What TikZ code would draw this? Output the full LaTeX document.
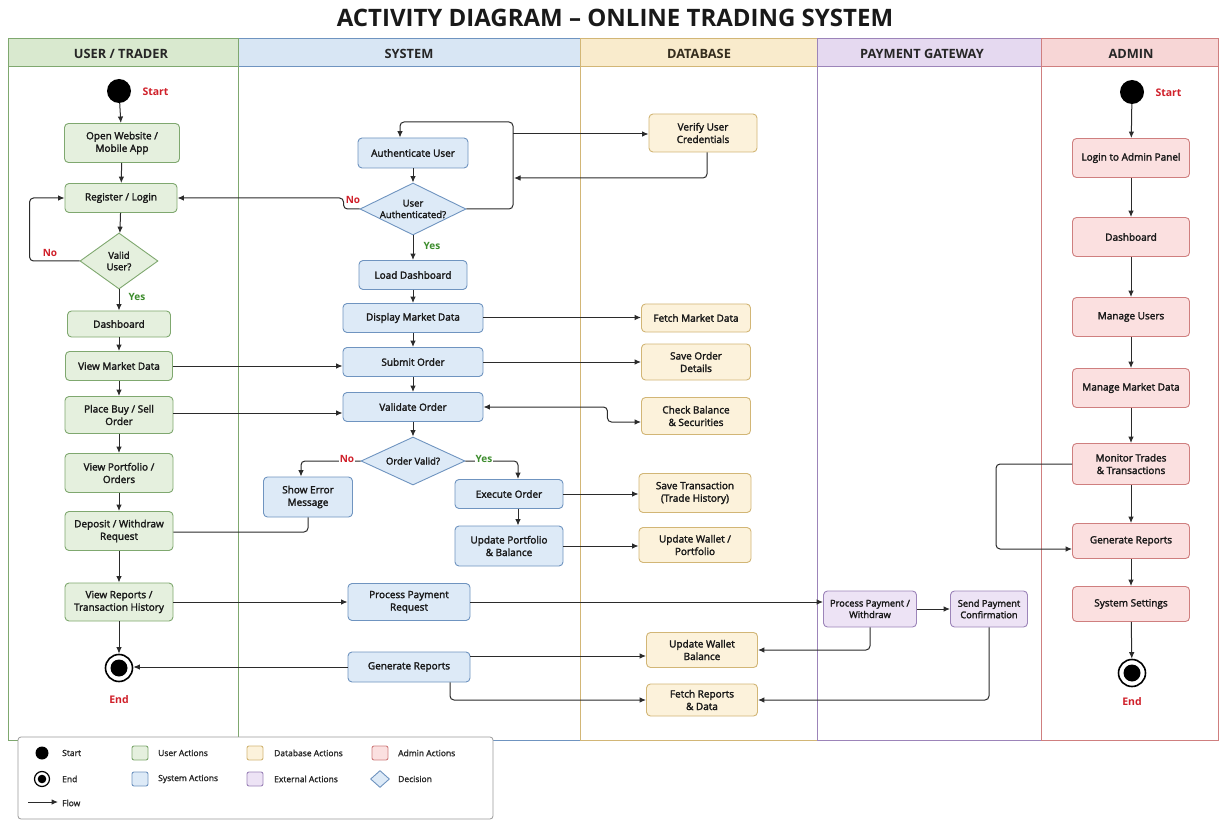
\documentclass[tikz,border=0pt]{standalone}
\usepackage{fontspec}
\setmainfont{Open Sans}
\newfontfamily\boxfont{Open Sans}[FakeBold=2.2]
\newfontfamily\legfont{Open Sans}[FakeBold=1.4]
\usetikzlibrary{arrows.meta,shapes.geometric}

\definecolor{usrFill}{HTML}{E5F0DE}
\definecolor{usrLine}{HTML}{7FA86F}
\definecolor{usrHead}{HTML}{D9E9CF}
\definecolor{sysFill}{HTML}{DDEAF7}
\definecolor{sysLine}{HTML}{6F94C0}
\definecolor{sysHead}{HTML}{D8E6F4}
\definecolor{dbFill}{HTML}{FCF2DB}
\definecolor{dbLine}{HTML}{D2B676}
\definecolor{dbHead}{HTML}{F9EBCC}
\definecolor{payFill}{HTML}{EDE3F5}
\definecolor{payLine}{HTML}{9C84B9}
\definecolor{payHead}{HTML}{E5D9F0}
\definecolor{admFill}{HTML}{FBE0E0}
\definecolor{admLine}{HTML}{CF7F7F}
\definecolor{admHead}{HTML}{F7D6D6}
\definecolor{flowInk}{HTML}{2B2B2B}
\definecolor{noRed}{HTML}{D0202A}
\definecolor{yesGreen}{HTML}{3C8C2C}
\definecolor{legendLine}{HTML}{9A9A9A}

\tikzset{
  act/.style={rectangle, rounded corners=4pt, line width=0.9pt, align=center,
    font=\boxfont\fontsize{10}{12.5}\selectfont, text=black!90, inner sep=2pt},
  usr/.style={act, fill=usrFill, draw=usrLine},
  sys/.style={act, fill=sysFill, draw=sysLine},
  db/.style={act, fill=dbFill, draw=dbLine},
  pay/.style={act, fill=payFill, draw=payLine},
  adm/.style={act, fill=admFill, draw=admLine},
  dec/.style={diamond, line width=0.9pt, align=center, inner sep=0pt,
    font=\boxfont\fontsize{9.5}{11.5}\selectfont, text=black!90},
  udec/.style={dec, fill=usrFill, draw=usrLine},
  sdec/.style={dec, fill=sysFill, draw=sysLine},
  startdot/.style={circle, fill=black, minimum size=24pt, inner sep=0pt},
  enddot/.style={circle, draw=black, line width=1.6pt, fill=white, minimum size=27pt, inner sep=0pt,
    path picture={\fill[black] (path picture bounding box.center) circle (8.5pt);}},
  flow/.style={draw=flowInk, line width=1pt, rounded corners=4pt, -{Latex[length=6.5pt,width=5.5pt]}},
  link/.style={draw=flowInk, line width=1pt, rounded corners=4pt},
  both/.style={draw=flowInk, line width=1pt, rounded corners=4pt,
    {Latex[length=6.5pt,width=5.5pt]}-{Latex[length=6.5pt,width=5.5pt]}},
  lanetitle/.style={font=\bfseries\fontsize{12.8}{14}\selectfont, text=black!85},
  nolbl/.style={font=\bfseries\fontsize{10}{12}\selectfont, text=noRed, inner sep=1pt},
  yeslbl/.style={font=\bfseries\fontsize{10}{12}\selectfont, text=yesGreen, inner sep=1pt},
  termlbl/.style={font=\bfseries\fontsize{10.5}{12}\selectfont, text=noRed},
  legtxt/.style={font=\legfont\fontsize{8.5}{10}\selectfont, text=black!85, anchor=west, inner sep=0pt},
  legbox/.style={rectangle, rounded corners=2pt, line width=0.9pt, minimum width=16pt, minimum height=14pt, inner sep=0pt},
}

\begin{document}
\begin{tikzpicture}[x=1pt,y=-1pt]
\useasboundingbox (0,0) rectangle (1219,821);
\fill[white] (0,0) rectangle (1219,821);

% title
\node[font=\bfseries\fontsize{24}{28}\selectfont, text=black!90] (title) at (615,18)
  {ACTIVITY DIAGRAM – ONLINE TRADING SYSTEM};

% swimlanes (drawn so that each shared border takes the right-hand lane colour)
\draw[draw=sysLine, line width=1pt] (238,67) rectangle (580,740);
\filldraw[draw=sysLine, fill=sysHead, line width=1pt] (238,39) rectangle (580,67);
\draw[draw=usrLine, line width=1pt] (8,67) rectangle (238,740);
\filldraw[draw=usrLine, fill=usrHead, line width=1pt] (8,39) rectangle (238,67);
\draw[draw=dbLine, line width=1pt] (580,67) rectangle (817,740);
\filldraw[draw=dbLine, fill=dbHead, line width=1pt] (580,39) rectangle (817,67);
\draw[draw=payLine, line width=1pt] (817,67) rectangle (1041,740);
\filldraw[draw=payLine, fill=payHead, line width=1pt] (817,39) rectangle (1041,67);
\draw[draw=admLine, line width=1pt] (1041,67) rectangle (1218.5,740);
\filldraw[draw=admLine, fill=admHead, line width=1pt] (1041,39) rectangle (1218.5,67);

\node[lanetitle] (hUsr) at (121,54) {USER / TRADER};
\node[lanetitle] (hSys) at (409,54) {SYSTEM};
\node[lanetitle, text=black!75!dbLine] (hDb) at (699,54) {DATABASE};
\node[lanetitle] (hPay) at (922,54) {PAYMENT GATEWAY};
\node[lanetitle] (hAdm) at (1131,54) {ADMIN};

% ---------------- user / trader ----------------
\node[startdot] (uStart) at (119,91) {};
\node[termlbl, anchor=west] (uStartLbl) at (139,92) {Start};
\node[usr, minimum width=115pt, minimum height=39pt] (uOpen) at (122,143) {Open Website /\\Mobile App};
\node[usr, minimum width=112pt, minimum height=29pt] (uReg) at (121,198) {Register / Login};
\node[udec, minimum width=78pt, minimum height=56pt, aspect=1.4] (uValid) at (119,261) {Valid\\User?};
\node[usr, minimum width=103pt, minimum height=26pt] (uDash) at (119,324) {Dashboard};
\node[usr, minimum width=107pt, minimum height=29pt] (uView) at (119,366) {View Market Data};
\node[usr, minimum width=108pt, minimum height=37pt] (uPlace) at (119,415) {Place Buy / Sell\\Order};
\node[usr, minimum width=108pt, minimum height=39pt] (uPort) at (119,473) {View Portfolio /\\Orders};
\node[usr, minimum width=108pt, minimum height=39pt] (uDep) at (119,531) {Deposit / Withdraw\\Request};
\node[usr, minimum width=108pt, minimum height=38pt] (uRep) at (119,602) {View Reports /\\Transaction History};
\node[enddot] (uEnd) at (119,668) {};
\node[termlbl] (uEndLbl) at (119,700) {End};

% ---------------- system ----------------
\node[sys, minimum width=110pt, minimum height=30pt] (sAuth) at (413,153) {Authenticate User};
\node[sdec, minimum width=106pt, minimum height=52pt, aspect=2] (sAuthQ) at (413,209) {User\\Authenticated?};
\node[sys, minimum width=108pt, minimum height=29pt] (sLoad) at (413,275) {Load Dashboard};
\node[sys, minimum width=140pt, minimum height=29pt] (sDisp) at (413,318) {Display Market Data};
\node[sys, minimum width=140pt, minimum height=29pt] (sSub) at (413,362) {Submit Order};
\node[sys, minimum width=140pt, minimum height=29pt] (sVal) at (413,407) {Validate Order};
\node[sdec, minimum width=104pt, minimum height=48pt, aspect=2.2] (sValQ) at (413,461) {Order Valid?};
\node[sys, minimum width=89pt, minimum height=40pt] (sErr) at (308,497) {Show Error\\Message};
\node[sys, minimum width=108pt, minimum height=29pt] (sExec) at (509,494) {Execute Order};
\node[sys, minimum width=108pt, minimum height=40pt] (sUpd) at (509,546) {Update Portfolio\\\& Balance};
\node[sys, minimum width=122pt, minimum height=37pt] (sPay) at (409,602) {Process Payment\\Request};
\node[sys, minimum width=122pt, minimum height=30pt] (sGen) at (409,667) {Generate Reports};

% ---------------- database ----------------
\node[db, minimum width=108pt, minimum height=38pt] (dVer) at (703,133) {Verify User\\Credentials};
\node[db, minimum width=109pt, minimum height=28pt] (dFetch) at (696,318) {Fetch Market Data};
\node[db, minimum width=109pt, minimum height=36pt] (dSave) at (696,362) {Save Order\\Details};
\node[db, minimum width=109pt, minimum height=37pt] (dCheck) at (696,416) {Check Balance\\\& Securities};
\node[db, minimum width=112pt, minimum height=39pt] (dTrans) at (695,493) {Save Transaction\\(Trade History)};
\node[db, minimum width=112pt, minimum height=35pt] (dWal) at (695,545) {Update Wallet /\\Portfolio};
\node[db, minimum width=111pt, minimum height=35pt] (dWalB) at (702,650) {Update Wallet\\Balance};
\node[db, minimum width=111pt, minimum height=32pt] (dRep) at (702,700) {Fetch Reports\\\& Data};

% ---------------- payment gateway ----------------
\node[pay, minimum width=93pt, minimum height=36pt, font=\boxfont\fontsize{9.3}{11.5}\selectfont] (pProc) at (870,609) {Process Payment /\\Withdraw};
\node[pay, minimum width=77pt, minimum height=36pt, font=\boxfont\fontsize{9.3}{11.5}\selectfont] (pSend) at (989,609) {Send Payment\\Confirmation};

% ---------------- admin ----------------
\node[startdot] (aStart) at (1132,92) {};
\node[termlbl, anchor=west] (aStartLbl) at (1152,93) {Start};
\node[adm, minimum width=117pt, minimum height=39pt] (aLogin) at (1131,158) {Login to Admin Panel};
\node[adm, minimum width=117pt, minimum height=39pt] (aDash) at (1131,237) {Dashboard};
\node[adm, minimum width=117pt, minimum height=39pt] (aUsers) at (1131,317) {Manage Users};
\node[adm, minimum width=117pt, minimum height=39pt] (aMkt) at (1131,388) {Manage Market Data};
\node[adm, minimum width=117pt, minimum height=41pt] (aMon) at (1131,464) {Monitor Trades\\\& Transactions};
\node[adm, minimum width=117pt, minimum height=35pt] (aGen) at (1131,541) {Generate Reports};
\node[adm, minimum width=117pt, minimum height=35pt] (aSet) at (1131,604) {System Settings};
\node[enddot] (aEnd) at (1132,673) {};
\node[termlbl] (aEndLbl) at (1132,702) {End};

% ---------------- flows: user lane ----------------
\draw[flow] (uStart) -- (uOpen);
\draw[flow] (uOpen) -- (uReg);
\draw[flow] (uReg) -- (uValid);
\draw[flow] (uValid.west) -- ++(-50,0) |- (uReg.west);
\node[nolbl] (uNo) at (50,253) {No};
\draw[flow] (uValid) -- (uDash);
\node[yeslbl] (uYes) at (137,297) {Yes};
\draw[flow] (uDash) -- (uView);
\draw[flow] (uView) -- (uPlace);
\draw[flow] (uPlace) -- (uPort);
\draw[flow] (uPort) -- (uDep);
\draw[flow] (uDep) -- (uRep);
\draw[flow] (uRep) -- (uEnd);

% ---------------- flows: authentication ----------------
\coordinate (authLoop) at (513,122);
\coordinate (verOut) at (513,134);
\coordinate (verBack) at (514,178);
\draw[flow] (sAuth) -- (sAuthQ);
\draw[flow] (sAuthQ.east) -| (authLoop) -| ([xshift=-13pt]sAuth.north);
\draw[flow] (verOut) -- (verOut -| dVer.west);
\draw[flow] ([xshift=4pt]dVer.south) |- (verBack);
\draw[flow] (sAuthQ.west) -- ++(-16,0) |- (uReg.east);
\node[nolbl] (aNo) at (353,200) {No};
\draw[flow] (sAuthQ) -- (sLoad);
\node[yeslbl] (aYes) at (432,246) {Yes};

% ---------------- flows: trading ----------------
\draw[flow] (sLoad) -- (sDisp);
\draw[flow] (sDisp) -- (sSub);
\draw[flow] (sSub) -- (sVal);
\draw[flow] (sVal) -- (sValQ);
\draw[flow] ([yshift=0.5pt]sDisp.east) -- ([yshift=0.5pt]sDisp.east -| dFetch.west);
\draw[flow] (sSub.east) -- (sSub.east -| dSave.west);
\draw[both] (sVal.east) -- ++(124,0) |- ([yshift=-6pt]dCheck.west);
\draw[flow] (uView.east) -- (uView.east -| sSub.west);
\draw[flow] ([yshift=2pt]uPlace.east) -- ([yshift=2pt]uPlace.east -| sVal.west);
\draw[flow] (sValQ.west) -| ([xshift=-7pt]sErr.north);
\draw[flow] (sValQ.east) -| ([xshift=9pt]sExec.north);
\node[nolbl, fill=white] (oNo) at (347,459) {No};
\node[yeslbl, fill=white] (oYes) at (484,459) {Yes};
\draw[link] (sErr.south) |- ([yshift=-1pt]uDep.east);
\draw[flow] ([xshift=9pt]sExec.south) -- ([xshift=9pt]sUpd.north);
\draw[flow] (sExec.east) -- (sExec.east -| dTrans.west);
\draw[flow] (sUpd.east) -- (sUpd.east -| dWal.west);

% ---------------- flows: payments and reports ----------------
\draw[flow] (uRep.east) -- (uRep.east -| sPay.west);
\draw[flow] (sPay.east) -- (sPay.east -| pProc.west);
\draw[flow] (pProc.east) -- (pSend.west);
\draw[flow] (pProc.south) |- (dWalB.east);
\draw[flow] (pSend.south) |- (dRep.east);
\draw[flow] (sGen.west) -- (sGen.west -| uEnd.east);
\draw[flow] ([yshift=11pt]sGen.east) -- ([yshift=11pt]sGen.east -| dWalB.west);
\draw[flow] ([xshift=41pt]sGen.south) |- (dRep.west);

% ---------------- flows: admin lane ----------------
\draw[flow] (aStart) -- (aLogin);
\draw[flow] (aLogin) -- (aDash);
\draw[flow] (aDash) -- (aUsers);
\draw[flow] (aUsers) -- (aMkt);
\draw[flow] (aMkt) -- (aMon);
\draw[flow] (aMon) -- (aGen);
\draw[flow] (aGen) -- (aSet);
\draw[flow] (aSet) -- (aEnd);
\draw[flow] (aMon.west) -- ++(-76,0) |- ([yshift=-8pt]aGen.west);

% ---------------- legend ----------------
\draw[legendLine, fill=white, rounded corners=3pt, line width=0.8pt] (18,737) rectangle (493,819);
\node[circle, fill=black, minimum size=13pt, inner sep=0pt] (lgStart) at (42,753) {};
\node[legtxt] (lgStartT) at (62,753) {Start};
\node[circle, draw=black, line width=1.2pt, fill=white, minimum size=15pt, inner sep=0pt,
  path picture={\fill[black] (path picture bounding box.center) circle (4.3pt);}] (lgEnd) at (42,779) {};
\node[legtxt] (lgEndT) at (62,779) {End};
\coordinate (lgFlowA) at (28,802);
\coordinate (lgFlowB) at (58,802);
\draw[flow, rounded corners=0pt] (lgFlowA) -- (lgFlowB);
\node[legtxt] (lgFlowT) at (62,803) {Flow};
\node[legbox, fill=usrFill, draw=usrLine] (lgUsr) at (140,753) {};
\node[legtxt] (lgUsrT) at (158,753) {User Actions};
\node[legbox, fill=sysFill, draw=sysLine] (lgSys) at (140,779) {};
\node[legtxt] (lgSysT) at (158,779) {System Actions};
\node[legbox, fill=dbFill, draw=dbLine] (lgDb) at (255,753) {};
\node[legtxt] (lgDbT) at (274,753) {Database Actions};
\node[legbox, fill=payFill, draw=payLine] (lgPay) at (255,779) {};
\node[legtxt] (lgPayT) at (274,779) {External Actions};
\node[legbox, fill=admFill, draw=admLine] (lgAdm) at (380,753) {};
\node[legtxt] (lgAdmT) at (398,753) {Admin Actions};
\node[diamond, fill=sysFill, draw=sysLine, line width=0.9pt, minimum width=19pt, minimum height=17pt, inner sep=0pt] (lgDec) at (380,779) {};
\node[legtxt] (lgDecT) at (398,779) {Decision};
\end{tikzpicture}
\end{document}
